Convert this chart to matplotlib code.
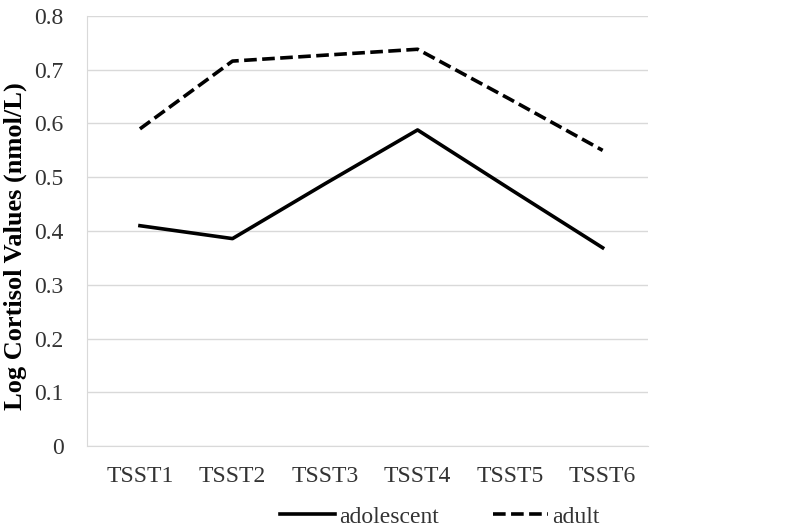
import matplotlib
matplotlib.use("Agg")
import matplotlib.pyplot as plt

categories = ["TSST1", "TSST2", "TSST3", "TSST4", "TSST5", "TSST6"]
adolescent = [0.410, 0.386, 0.488, 0.588, 0.478, 0.369]
adult = [0.590, 0.716, 0.727, 0.738, 0.645, 0.550]
yticks = [0, 0.1, 0.2, 0.3, 0.4, 0.5, 0.6, 0.7, 0.8]
ytick_labels = ["0", "0.1", "0.2", "0.3", "0.4", "0.5", "0.6", "0.7", "0.8"]

plt.rcParams['font.family'] = ['Liberation Serif', 'DejaVu Serif']

fig = plt.figure(figsize=(8, 5.3), dpi=100)
ax = fig.add_axes([0.109, 0.158, 0.701, 0.812])

x = list(range(len(categories)))
ax.plot(x, adolescent, color="black", lw=2.6, label="adolescent")
ax.plot(x, adult, color="black", lw=2.6, linestyle=(0, (3.5, 1.5)), label="adult")

ax.set_xlim(-0.57, 5.49)
ax.set_ylim(0, 0.8)
ax.set_yticks(yticks)
ax.set_yticklabels(ytick_labels)
ax.set_xticks(x)
ax.set_xticklabels(categories)
ax.tick_params(axis="both", length=0, labelsize=17, colors="#333333")
ax.tick_params(axis="y", pad=17)
ax.tick_params(axis="x", pad=14)
ax.grid(axis="y", color="#d9d9d9", lw=1)
ax.set_axisbelow(True)
for s in ["top", "right"]:
    ax.spines[s].set_visible(False)
ax.spines["left"].set_color("#d9d9d9")
ax.spines["bottom"].set_color("#d9d9d9")

ax.set_ylabel("Log Cortisol Values (nmol/L)", fontsize=19, fontweight="bold")
ax.yaxis.set_label_coords(-0.108, 0.465)

fig.legend(loc="center", bbox_to_anchor=(0.55, 0.025), ncol=2, frameon=False,
           fontsize=17, handlelength=2.3, columnspacing=2.3, handletextpad=0.2,
           labelcolor="#333333", borderpad=0.2)

fig.savefig("out.png", dpi=100)
